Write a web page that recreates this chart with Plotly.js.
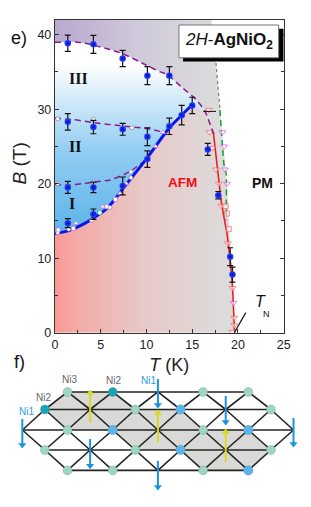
<!DOCTYPE html>
<html><head><meta charset="utf-8">
<script src="https://cdn.plot.ly/plotly-3.0.1.min.js"></script>
<style>html,body{margin:0;padding:0;background:#fff}#c{width:311px;height:507px}</style></head>
<body><div id="c"></div>
<script>
// phase boundaries
const blueLineT=[0,1.5,3,4.2,5.5,6.5,7.4,8.5,10.1,12.5,13.85,15];
const blueLineB=[13.3,13.7,14.5,15.4,16.5,17.8,19.3,21,23.5,27.5,29.2,30.6];
const domeT=[0,1,2.5,4.2,6,7.5,10,11.5,12.2,14,15.5,16.4,17.1,17.4];
const domeB=[39,39,39,38.6,38,37.4,35.9,35,34.7,32.8,31.2,29.7,27.5,26.5];
const midT=[0,2,4.2,7,10,11.9];
const midB=[28.8,28.6,28.2,27.8,27.4,26.9];
const lowT=[0,1.5,3,4.2,6,7.5,8.5,9.5];
const lowB=[19.9,19.8,20,20.2,20.5,21.2,21.9,22.8];
const redT=[17.3,17.8,18.2,18.8,19.1,19.4,19.6,19.65];
const redB=[27,21.6,17.4,13.3,10.2,6.2,0.8,0];
const greenT=[18.03,18.5,18.7,18.7];
const greenB=[29.9,22.3,21.4,15.1];
const dottedT=[17.6,18.03];
const dottedB=[36.2,30];
const edgeT=[17.1,17.6,18.03,18.8,19.1,19.4,19.65];
const edgeB=[42,36.2,30,20,13,8,0];
// measured points
const ptT=[1.4,4.2,7.4,10.1,12.5,1.4,4.2,7.4,10.1,10.1,7.4,4.2,1.4,1.4,4.2,12.5,13.85,15,16.7,17.85,19.15,19.4];
const ptB=[38.85,38.7,36.8,34.5,34.5,28.3,27.6,27.3,26.3,23.3,19.7,19.5,19.5,14.7,15.9,27.7,29.2,30.5,24.6,18.45,10.2,7.8];
const ptE=[1.1,1.2,1.1,1.2,1.2,1.1,0.9,0.8,1.2,1.1,1.2,0.7,0.8,0.6,0.7,1.1,1.3,1.1,0.8,0.5,1.2,1.0];
const circT=[0.3,4.2,8.4,0.3,4.2,8.3,8.3,0.3,1.5,4,6];
const circB=[28.7,28.65,27.5,20,20.2,21.6,20.8,13.4,13.9,15.1,16.8];
const greenCircT=[4.9];const greenCircB=[16.1];
const squareT=[0.35,2,5.65,6.6];
const squareB=[13.8,14,16.9,17.9];
const triUpT=[2.3,5.2,7.1,7.8,11,11.8];
const triUpB=[14.7,16.9,18.7,20,25,26.9];
const redTriT=[16.8,16.9,17.2,17.6,17.9,18.2,18.9,19.4,19.6,19.6,19.4];
const redTriB=[29.9,26.9,24.8,21.9,20,17,12,6,2,1,0.1];
const magTriT=[18.3,18.5,18.6,18.8,19.5];
const magTriB=[26.9,25,21.9,20,4];
const redSqT=[18.65,18.8,19];
const redSqB=[17,16,13.9];
// lattice
const rowLevels=[0,0.893,1.939,2.959,4];
const rowCols=[[2,4,6,8,10],[1,3,5,7,9,11],[0,2,4,6,8,10,12],[1,3,5,7,9,11],[2,4,6,8,10]];
const teal=[[1,1],[4,0]];
const blues=[[4,2],[7,1],[7,3],[10,2],[10,4]];
const greens=[[2,0],[8,0],[10,0],[5,1],[11,1],[2,2],[8,2],[1,3],[5,3],[11,3],[2,4],[4,4],[8,4]];
const grayPath=[[1,1],[2,0],[4,0],[5,1],[7,1],[8,2],[10,2],[11,3],[10,4],[8,4],[7,3],[5,3],[4,2],[2,2],[1,1]];
const downCol=[0,3,6,6,9,12];
const downTail=[1.378,2.398,-0.663,3.52,0.204,1.327];
const downHead=[2.704,3.76,0.663,4.85,1.53,2.653];
const upCol=[3,6,9];
const upTail=[1.58,2.55,3.57];
const upHead=[0.05,1.07,2.04];

const F='"Liberation Sans",Arial,sans-serif';
const SERIF='"Liberation Serif",serif';
const ax2={xaxis:'x2',yaxis:'y2',hoverinfo:'skip',showlegend:false};
const base={hoverinfo:'skip',showlegend:false};
const line=(x,y,c,w,dash)=>Object.assign({type:'scatter',mode:'lines',x,y,line:{color:c,width:w,dash:dash||'solid',shape:'spline',smoothing:0.6}},base);
const mk=(x,y,sym,fill,edge,size)=>Object.assign({type:'scatter',mode:'markers',x,y,marker:{symbol:sym,size:size,color:fill,line:{color:edge,width:0.7}}},base);

const rev=a=>a.slice().reverse();
const afmX=[0].concat(blueLineT,[16.4,17.3],redT.slice(1),[0]);
const afmY=[0].concat(blueLineB,[29.7,27],redB.slice(1),[0]);
const domeX=blueLineT.concat([16.4,15.5,14,12.2,11.5,10,7.5,6,4.2,2.5,1,0]);
const domeY=blueLineB.concat([29.7,31.2,32.8,34.7,35,35.9,37.4,38,38.6,39,39,39]);
const outerX=[0].concat(domeT.slice(0,13),[17.3],redT.slice(1),rev(edgeT),[0]);
const outerY=[42].concat(domeB.slice(0,13),[27],redB.slice(1),rev(edgeB),[42]);

const traces=[
 Object.assign({type:'scatter',mode:'none',x:outerX,y:outerY,fill:'toself',fillgradient:{type:'horizontal',start:0,stop:18,colorscale:[[0,'#b9a8cf'],[0.5,'#cfc9da'],[1,'#dcdcdc']]}},base),
 Object.assign({type:'scatter',mode:'none',x:afmX,y:afmY,fill:'toself',fillgradient:{type:'horizontal',start:0,stop:19,colorscale:[[0,'#f99a96'],[0.15,'#f2adaa'],[0.5,'#e8c8c8'],[1,'#dcdcdc']]}},base),
 Object.assign({type:'scatter',mode:'none',x:domeX,y:domeY,fill:'toself',fillgradient:{type:'vertical',start:13,stop:36,colorscale:[[0,'#5ab3ea'],[0.5,'#93cdf2'],[1,'#ffffff']]}},base),
 line(dottedT,dottedB,'#777',1.2,'dot'),
 line(greenT,greenB,'#1c9a3a',1.5,'6px,4px'),
 line(redT,redB,'#f01c20',1.6),
 mk(redTriT,redTriB,'triangle-down','rgba(255,255,255,0.5)','#f5606a',6),
 mk(magTriT,magTriB,'triangle-down','rgba(255,255,255,0.6)','#e24fd8',6),
 mk(redSqT,redSqB,'square','rgba(255,255,255,0.5)','#f5606a',5),
 line(domeT,domeB,'#8a1a8e',1.5,'6px,4px'),
 line(midT,midB,'#8a1a8e',1.5,'6px,4px'),
 line(lowT,lowB,'#8a1a8e',1.5,'6px,4px'),
 line(blueLineT,blueLineB,'#0a14f0',3),
 mk(circT,circB,'circle','#ffffff','#8a7a9a',4),
 mk(greenCircT,greenCircB,'circle','#ffffff','#3aa060',4.5),
 mk(squareT,squareB,'square','#ffffff','#c07ad0',4),
 mk(triUpT,triUpB,'triangle-up','#ffffff','#d070d8',4.5),
 Object.assign({type:'scatter',mode:'markers',x:ptT,y:ptB,
   error_y:{type:'data',array:ptE,visible:true,color:'#111',thickness:1.2,width:3},
   marker:{symbol:'circle',size:6.5,color:'#2c48f0',gradient:{type:'radial',color:'#0006d8'},line:{width:0}}},base)
];

const pts=[];rowCols.forEach((cs,r)=>cs.forEach(c=>pts.push([c,r])));
const ex=[],ey=[];
pts.forEach(a=>pts.forEach(b=>{
  const dc=b[0]-a[0],dr=b[1]-a[1];
  if((dr===0&&dc===2)||(dr===1&&Math.abs(dc)===1)){ex.push(a[0],b[0],null);ey.push(rowLevels[a[1]],rowLevels[b[1]],null);}
}));
const lat=(list)=>({x:list.map(p=>p[0]),y:list.map(p=>rowLevels[p[1]])});
const gp=lat(grayPath);
traces.push(Object.assign({type:'scatter',mode:'none',x:gp.x,y:gp.y,fill:'toself',fillcolor:'#d9d9d7'},ax2));
traces.push(Object.assign({type:'scatter',mode:'lines',x:ex,y:ey,line:{color:'#222',width:1.6}},ax2));
const nodeTrace=(list,c,s)=>{const p=lat(list);return Object.assign({type:'scatter',mode:'markers',x:p.x,y:p.y,marker:{size:s,color:c,line:{color:'rgba(90,140,130,0.5)',width:0.6}}},ax2);};
traces.push(nodeTrace(greens,'#9fd6c1',9));
traces.push(nodeTrace(teal,'#17a3b8',9));
traces.push(nodeTrace(blues,'#5bb5ec',9.5));
const arrows=(cols,tail,head,c,sym)=>{
  const x=[],y=[];cols.forEach((k,i)=>{x.push(k,k,null);y.push(tail[i],head[i],null);});
  traces.push(Object.assign({type:'scatter',mode:'lines',x,y,line:{color:c,width:2}},ax2));
  traces.push(Object.assign({type:'scatter',mode:'markers',x:cols,y:head,marker:{symbol:sym,size:7,color:c}},ax2));
};
arrows(downCol,downTail,downHead,'#1a94e0','triangle-down');
arrows(upCol,upTail,upHead,'#d9d91e','triangle-up');

const P=(px,py,text,size,color,family,extra)=>Object.assign({x:px/311,y:1-py/507,xref:'paper',yref:'paper',text,showarrow:false,xanchor:'center',yanchor:'middle',font:{family:family||F,size,color}},extra||{});
const annotations=[
 P(18.5,37.5,'e)',18,'#111'),
 P(19.5,361.5,'f)',18,'#111'),
 P(18.5,164,'<i>B</i> (T)',19,'#222',F,{textangle:-90}),
 P(78,78,'<b>III</b>',16,'#111',SERIF),
 P(75,146,'<b>II</b>',16,'#111',SERIF),
 P(72,203,'<b>I</b>',16,'#111',SERIF),
 P(182.7,182.7,'<b>AFM</b>',13.5,'#f00c10'),
 P(262.7,182.7,'<b>PM</b>',14,'#111'),
 P(260.5,301,'<i>T</i>',16,'#111'),
 P(266.5,314,'N',9,'#111'),
 P(229,41.5,'<i>2H</i>-<b>AgNiO<sub>2</sub></b>',17,'#111'),
 P(43,397,'Ni2',10,'#666'),
 P(69,379,'Ni3',10,'#666'),
 P(113.7,380,'Ni2',10,'#666'),
 P(148,380,'Ni1',10,'#2a9de6'),
 P(26,411,'Ni1',10,'#2a9de6')
];

const layout={
 width:311,height:507,margin:{l:0,r:0,t:0,b:0},paper_bgcolor:'#fff',plot_bgcolor:'rgba(0,0,0,0)',showlegend:false,
 font:{family:F,color:'#222'},
 xaxis:{domain:[55/311,283.7/311],range:[0,25],tick0:0,dtick:5,ticks:'inside',ticklen:4,tickcolor:'#333',minor:{dtick:2.5,ticks:'inside',ticklen:2.5,tickcolor:'#333'},
   showgrid:false,zeroline:false,showline:true,linecolor:'#333',linewidth:1.2,mirror:true,tickfont:{family:F,size:12.5,color:'#222'},
   title:{text:'<i>T</i> (K)',font:{family:F,size:18,color:'#222'},standoff:7},automargin:false,layer:'above traces'},
 yaxis:{domain:[1-332.7/507,1-20/507],range:[0,41.97],tick0:0,dtick:10,ticks:'inside',ticklen:4,tickcolor:'#333',minor:{dtick:5,ticks:'inside',ticklen:2.5,tickcolor:'#333'},
   showgrid:false,zeroline:false,showline:true,linecolor:'#333',linewidth:1.2,mirror:'ticks',tickfont:{family:F,size:12.5,color:'#222'},automargin:false,layer:'above traces'},
 xaxis2:{domain:[0,1],range:[-0.987,12.774],visible:false,anchor:'y2',fixedrange:true},
 yaxis2:{domain:[0,137/507],range:[5.867,-1.122],visible:false,anchor:'x2',fixedrange:true},
 shapes:[
  {type:'rect',xref:'x',yref:'y',x0:14.0,x1:25,y0:36.4,y1:40.8,fillcolor:'#000',line:{width:0},layer:'above'},
  {type:'rect',xref:'x',yref:'y',x0:13.55,x1:24.45,y0:36.9,y1:41.3,fillcolor:'#fff',line:{color:'#777',width:1},layer:'above'},
  {type:'line',xref:'x',yref:'y',x0:20.86,y0:2.7,x1:19.6,y1:0,line:{color:'#111',width:1.2}},
  {type:'line',xref:'x',yref:'y',x0:16.2,y0:29.7,x1:17.6,y1:29.7,line:{color:'#111',width:1}}
 ],
 annotations
};
Plotly.newPlot('c',traces,layout,{staticPlot:true,displayModeBar:false});
</script></body></html>
